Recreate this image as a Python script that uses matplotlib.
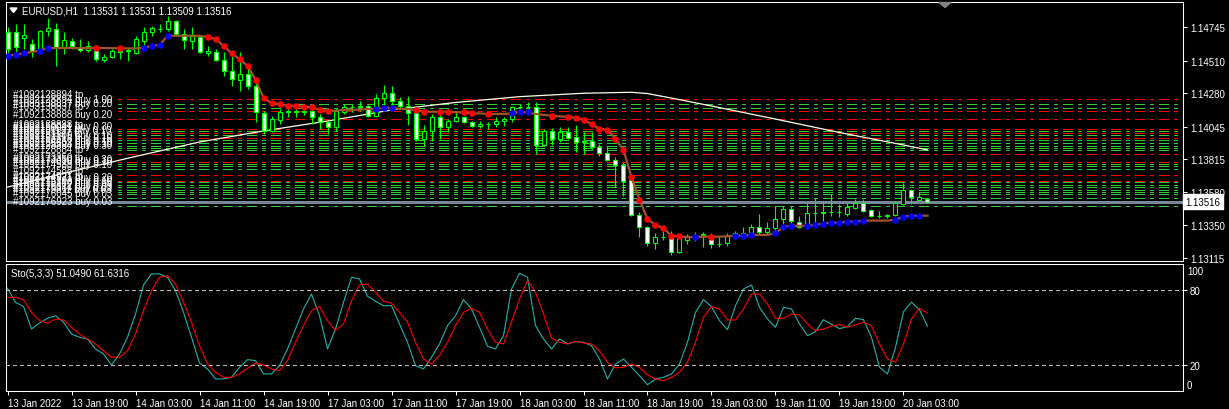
import numpy as np
import matplotlib
matplotlib.use('Agg')
import matplotlib.pyplot as plt
import matplotlib.transforms as mtrans
from matplotlib.patches import Polygon

plt.rcParams['font.family'] = ['Liberation Sans', 'DejaVu Sans']
plt.rcParams['lines.scale_dashes'] = False

# EURUSD H1, bars 13 Jan 11:00 .. 20 Jan 06:00
opens = [
    1.14712, 1.14712, 1.14670, 1.14627, 1.14578, 1.14719, 1.14733, 1.14606, 1.14649, 1.14606,
    1.14585, 1.14613, 1.14515, 1.14536, 1.14571, 1.14578, 1.14564, 1.14649, 1.14712, 1.14733,
    1.14733, 1.14790, 1.14698, 1.14649, 1.14677, 1.14564, 1.14571, 1.14515, 1.14437, 1.14373,
    1.14416, 1.14331, 1.14141, 1.14014, 1.14091, 1.14148, 1.14152, 1.14148, 1.14155, 1.14112,
    1.14077, 1.14042, 1.14148, 1.14183, 1.14186, 1.14190, 1.14119, 1.14246, 1.14282, 1.14225,
    1.14190, 1.14141, 1.13957, 1.14014, 1.14112, 1.14042, 1.14084, 1.14112, 1.14077, 1.14049,
    1.14063, 1.14060, 1.14084, 1.14098, 1.14183, 1.14186, 1.14183, 1.13915, 1.14014, 1.13957,
    1.14007, 1.13971, 1.13936, 1.13940, 1.13901, 1.13858, 1.13809, 1.13774, 1.13668, 1.13421,
    1.13336, 1.13223, 1.13266, 1.13263, 1.13160, 1.13245, 1.13273, 1.13280, 1.13280, 1.13216,
    1.13223, 1.13273, 1.13294, 1.13294, 1.13336, 1.13301, 1.13329, 1.13393, 1.13463, 1.13372,
    1.13329, 1.13435, 1.13438, 1.13442, 1.13445, 1.13428, 1.13470, 1.13506, 1.13456, 1.13414,
    1.13417, 1.13421, 1.13499, 1.13597, 1.13530, 1.13531]
highs = [
    1.14747, 1.14769, 1.14769, 1.14663, 1.14726, 1.14811, 1.14776, 1.14712, 1.14670, 1.14663,
    1.14649, 1.14620, 1.14557, 1.14592, 1.14613, 1.14599, 1.14684, 1.14747, 1.14754, 1.14769,
    1.14825, 1.14795, 1.14733, 1.14747, 1.14684, 1.14613, 1.14592, 1.14571, 1.14543, 1.14571,
    1.14472, 1.14381, 1.14155, 1.14119, 1.14169, 1.14176, 1.14169, 1.14183, 1.14190, 1.14134,
    1.14084, 1.14176, 1.14204, 1.14204, 1.14225, 1.14197, 1.14275, 1.14338, 1.14331, 1.14254,
    1.14261, 1.14155, 1.14056, 1.14134, 1.14134, 1.14098, 1.14148, 1.14119, 1.14084, 1.14084,
    1.14077, 1.14112, 1.14112, 1.14190, 1.14204, 1.14218, 1.14218, 1.14028, 1.14035, 1.14042,
    1.14042, 1.14056, 1.14007, 1.14007, 1.13921, 1.13908, 1.13830, 1.13795, 1.13689, 1.13442,
    1.13343, 1.13294, 1.13308, 1.13308, 1.13273, 1.13287, 1.13301, 1.13301, 1.13294, 1.13273,
    1.13294, 1.13308, 1.13336, 1.13357, 1.13428, 1.13372, 1.13484, 1.13484, 1.13484, 1.13414,
    1.13506, 1.13541, 1.13520, 1.13569, 1.13499, 1.13506, 1.13534, 1.13534, 1.13463, 1.13449,
    1.13428, 1.13510, 1.13647, 1.13604, 1.13583, 1.13531]
lows = [
    1.14557, 1.14571, 1.14592, 1.14536, 1.14571, 1.14684, 1.14472, 1.14557, 1.14592, 1.14571,
    1.14571, 1.14508, 1.14500, 1.14530, 1.14522, 1.14508, 1.14560, 1.14613, 1.14684, 1.14712,
    1.14719, 1.14684, 1.14592, 1.14592, 1.14564, 1.14543, 1.14508, 1.14402, 1.14331, 1.14296,
    1.14310, 1.14077, 1.13992, 1.14007, 1.14063, 1.14112, 1.14112, 1.14127, 1.14063, 1.14028,
    1.13992, 1.14014, 1.14134, 1.14148, 1.14155, 1.14112, 1.14115, 1.14204, 1.14169, 1.14169,
    1.14056, 1.13943, 1.13908, 1.13943, 1.13957, 1.14007, 1.14077, 1.14070, 1.14042, 1.14035,
    1.14028, 1.14042, 1.14049, 1.14077, 1.14148, 1.14155, 1.13851, 1.13908, 1.13915, 1.13936,
    1.13957, 1.13865, 1.13851, 1.13890, 1.13837, 1.13802, 1.13618, 1.13555, 1.13414, 1.13266,
    1.13202, 1.13181, 1.13245, 1.13139, 1.13150, 1.13216, 1.13238, 1.13195, 1.13188, 1.13195,
    1.13202, 1.13252, 1.13252, 1.13266, 1.13287, 1.13287, 1.13308, 1.13357, 1.13357, 1.13329,
    1.13322, 1.13343, 1.13357, 1.13414, 1.13407, 1.13414, 1.13463, 1.13442, 1.13407, 1.13400,
    1.13400, 1.13414, 1.13491, 1.13499, 1.13520, 1.13509]
closes = [
    1.14592, 1.14606, 1.14691, 1.14578, 1.14719, 1.14740, 1.14606, 1.14656, 1.14613, 1.14585,
    1.14613, 1.14522, 1.14536, 1.14578, 1.14578, 1.14585, 1.14663, 1.14712, 1.14740, 1.14736,
    1.14790, 1.14698, 1.14656, 1.14684, 1.14571, 1.14578, 1.14515, 1.14437, 1.14381, 1.14416,
    1.14331, 1.14148, 1.14014, 1.14098, 1.14148, 1.14152, 1.14148, 1.14155, 1.14112, 1.14077,
    1.14042, 1.14155, 1.14183, 1.14186, 1.14190, 1.14119, 1.14246, 1.14282, 1.14225, 1.14190,
    1.14141, 1.13957, 1.14014, 1.14112, 1.14042, 1.14084, 1.14112, 1.14077, 1.14049, 1.14063,
    1.14060, 1.14084, 1.14098, 1.14183, 1.14186, 1.14183, 1.13915, 1.14014, 1.13957, 1.14007,
    1.13964, 1.13936, 1.13940, 1.13901, 1.13858, 1.13809, 1.13774, 1.13661, 1.13421, 1.13336,
    1.13223, 1.13266, 1.13263, 1.13160, 1.13259, 1.13273, 1.13280, 1.13287, 1.13216, 1.13219,
    1.13273, 1.13294, 1.13290, 1.13336, 1.13301, 1.13329, 1.13393, 1.13463, 1.13379, 1.13336,
    1.13435, 1.13438, 1.13442, 1.13445, 1.13442, 1.13477, 1.13506, 1.13449, 1.13414, 1.13417,
    1.13421, 1.13506, 1.13597, 1.13548, 1.13545, 1.13516]

# trend-stop line with coloured dots ('' = no dot)
trend = [
    1.14545, 1.14552, 1.14562, 1.14571, 1.14580, 1.14599, 1.14599, 1.14599, 1.14599, 1.14599,
    1.14599, 1.14599, 1.14599, 1.14599, 1.14597, 1.14597, 1.14597, 1.14601, 1.14615, 1.14620,
    1.14686, 1.14686, 1.14686, 1.14686, 1.14686, 1.14677, 1.14663, 1.14615, 1.14562, 1.14522,
    1.14474, 1.14376, 1.14249, 1.14211, 1.14204, 1.14192, 1.14192, 1.14185, 1.14181, 1.14164,
    1.14157, 1.14157, 1.14162, 1.14164, 1.14164, 1.14169, 1.14169, 1.14176, 1.14178, 1.14169,
    1.14169, 1.14162, 1.14150, 1.14150, 1.14150, 1.14150, 1.14146, 1.14146, 1.14138, 1.14138,
    1.14134, 1.14134, 1.14134, 1.14138, 1.14146, 1.14146, 1.14134, 1.14127, 1.14122, 1.14117,
    1.14114, 1.14107, 1.14093, 1.14063, 1.14028, 1.14023, 1.13957, 1.13882, 1.13687, 1.13529,
    1.13393, 1.13350, 1.13327, 1.13275, 1.13271, 1.13264, 1.13264, 1.13268, 1.13268, 1.13268,
    1.13271, 1.13275, 1.13275, 1.13280, 1.13280, 1.13280, 1.13292, 1.13338, 1.13345, 1.13345,
    1.13345, 1.13352, 1.13360, 1.13367, 1.13367, 1.13374, 1.13374, 1.13381, 1.13381, 1.13381,
    1.13381, 1.13388, 1.13409, 1.13416, 1.13416, 1.13416]
dots = [
    "b", "b", "b", "", "b", "b", "", "", "", "",
    "", "r", "", "", "r", "", "", "b", "b", "b",
    "b", "", "", "", "", "r", "r", "r", "r", "r",
    "r", "r", "r", "r", "r", "r", "r", "r", "r", "r",
    "r", "", "", "", "", "", "b", "b", "b", "",
    "", "r", "r", "", "r", "r", "", "r", "r", "",
    "r", "", "", "b", "b", "b", "", "", "r", "",
    "r", "r", "r", "r", "r", "r", "r", "r", "r", "r",
    "r", "r", "r", "r", "r", "", "b", "", "r", "",
    "", "b", "b", "b", "", "", "b", "b", "b", "",
    "b", "b", "b", "b", "b", "b", "b", "b", "", "",
    "", "b", "b", "b", "b", ""]

# slow moving average, read at sampled bars
ma_bars = [0, 8, 16, 24, 32, 40, 48, 56, 64, 72, 78, 80, 84, 88, 96, 104, 112, 115]
ma_vals = [1.13618, 1.13728, 1.13834, 1.13936, 1.14014, 1.14084, 1.14162, 1.14215, 1.14256,
           1.14280, 1.14287, 1.14278, 1.14235, 1.14190, 1.14098, 1.14003, 1.13915, 1.13880]

# open order lines
order_prices = [1.14237, 1.14202, 1.14174, 1.14155, 1.14096, 1.14026, 1.14014, 1.14002, 1.13985,
                1.13966, 1.13950, 1.13931, 1.13910, 1.13896, 1.13880, 1.13849, 1.13797, 1.13781,
                1.13765, 1.13748, 1.13701, 1.13659, 1.13652, 1.13633, 1.13616, 1.13599, 1.13583,
                1.13567, 1.13539, 1.13482]
order_colors = ["r", "g", "g", "r", "r", "r", "g", "r", "g", "r", "g", "g", "g", "g", "g",
                "r", "r", "g", "g", "g", "r", "r", "g", "g", "g", "g", "g", "g", "g", "g"]
order_labels = [
    "#1092128894 tp", "#1092128894 buy 1.00", "#1093138837 buy 0.20", "#1093138837 tp",
    "#1092138888 buy 0.20", "#1092138888 tp", "#1092150041 buy 0.30", "#1092150041 tp",
    "#1092151127 buy 0.10", "#1092151127 tp", "#1092152209 buy 0.10", "#1092153318 buy 0.10",
    "#1092154462 buy 0.10", "#1092155503 buy 0.10", "#1092128884 buy 0.30", "#1092128884 tp",
    "#1092173350 tp", "#1092173350 buy 0.30", "#1092174016 buy 0.10", "#1092174588 buy 0.10",
    "#1092174588 tp", "#1092174921 tp", "#1092174921 buy 0.20", "#1092175102 buy 0.10",
    "#1092175240 buy 0.05", "#1092175317 buy 0.05", "#1092175384 buy 0.03",
    "#1092175811 buy 0.03", "#1092176045 buy 0.03", "#1092176923 buy 0.03"]

price_ticks = [1.14745, 1.14510, 1.14280, 1.14045, 1.13815, 1.13580, 1.13350, 1.13115]
bid = 1.13516

# Stochastic(5,3,3)
sto_main = [
    81.4, 70.2, 66.7, 48.9, 53.7, 57.5, 59.5, 54.3, 44.9, 42.3,
    41.0, 33.0, 29.0, 20.2, 29.0, 42.3, 60.9, 84.0, 92.8, 92.8,
    90.1, 79.5, 62.2, 42.3, 21.8, 17.1, 9.1, 9.1, 10.4, 18.4,
    24.5, 23.7, 13.1, 13.1, 19.7, 33.0, 48.9, 64.9, 76.8, 59.5,
    33.0, 48.9, 70.2, 90.1, 88.8, 75.0, 71.0, 67.5, 67.5, 52.9,
    38.3, 19.7, 17.1, 26.4, 37.0, 51.6, 59.5, 72.3, 64.9, 50.3,
    35.1, 33.0, 43.6, 80.8, 93.3, 90.1, 51.6, 41.0, 33.0, 41.0,
    37.0, 38.8, 38.3, 35.6, 25.0, 9.1, 21.0, 25.0, 18.4, 11.7,
    4.5, 9.1, 10.4, 13.1, 21.0, 38.3, 62.2, 72.3, 66.7, 55.5,
    48.4, 67.5, 80.8, 84.0, 66.2, 56.9, 50.3, 66.2, 64.9, 52.9,
    43.6, 46.8, 56.3, 52.7, 49.2, 50.8, 57.5, 56.3, 42.3, 18.4,
    13.1, 34.3, 62.7, 70.2, 64.3, 51.049]
sto_signal = [
    74.2, 74.2, 72.3, 62.2, 55.5, 53.5, 56.9, 56.1, 50.3, 44.9,
    41.0, 37.0, 31.6, 26.4, 26.4, 31.6, 44.9, 63.5, 79.5, 90.1,
    91.4, 84.8, 70.2, 54.3, 35.6, 21.0, 14.4, 10.4, 10.4, 13.1,
    17.6, 21.8, 20.2, 17.1, 15.7, 23.7, 38.3, 51.6, 63.5, 67.0,
    55.5, 47.6, 52.9, 71.5, 84.0, 84.8, 78.2, 71.0, 69.4, 62.2,
    54.3, 38.3, 25.0, 21.0, 27.7, 38.3, 51.6, 62.2, 65.4, 62.2,
    48.9, 38.3, 37.0, 54.3, 72.8, 87.4, 78.2, 60.9, 41.8, 38.3,
    37.0, 39.1, 37.8, 37.0, 31.6, 22.4, 17.9, 18.4, 21.0, 18.4,
    12.3, 9.1, 7.7, 10.4, 14.4, 22.4, 38.3, 58.3, 66.7, 64.9,
    56.1, 56.1, 64.9, 76.8, 76.8, 68.9, 57.5, 57.5, 60.9, 60.1,
    52.9, 47.6, 48.9, 51.2, 52.4, 50.5, 52.1, 54.3, 51.6, 37.0,
    25.0, 22.4, 37.0, 56.9, 65.4, 61.6316]

time_labels = ["13 Jan 2022", "13 Jan 19:00", "14 Jan 03:00", "14 Jan 11:00", "14 Jan 19:00",
               "17 Jan 03:00", "17 Jan 11:00", "17 Jan 19:00", "18 Jan 03:00", "18 Jan 11:00",
               "18 Jan 19:00", "19 Jan 03:00", "19 Jan 11:00", "19 Jan 19:00", "20 Jan 03:00"]

W, H = 1229, 410
LIME = '#00FF00'


def fx(px):
    return px / W


def fy(py):
    return 1 - py / H


fig = plt.figure(figsize=(W / 100, H / 100), dpi=100, facecolor='black')
ax = fig.add_axes([fx(6), fy(262.3), fx(1183) - fx(6), fy(3.3) - fy(262.3)], facecolor='black')
ax2 = fig.add_axes([fx(6), fy(392), fx(1183) - fx(6), fy(264.5) - fy(392)], facecolor='black')

x = np.arange(len(opens))
o, h, l, c = (np.array(v) for v in (opens, highs, lows, closes))
xlim = (-0.19, 146.94)

# order lines + labels
line_start = 13.7
for p, col, lbl in zip(order_prices, order_colors, order_labels):
    ax.plot([line_start, xlim[1] + 1], [p, p], color='#FF0000' if col == 'r' else '#32CD32',
            lw=0.75, linestyle=(10.3, (6.5, 4.3, 2.2, 4.3)), antialiased=False, zorder=1)
    ax.annotate(lbl, xy=(0.73, p), xytext=(0, 1.5), textcoords='offset points',
                color='white', fontsize=7, va='baseline', ha='left', zorder=6)

ax.axhline(bid, color='#778899', lw=0.75, antialiased=False, zorder=1.5)
ax.plot(ma_bars, ma_vals, color='#FFFFE8', lw=0.9, zorder=2)

# candles
bull = c >= o
ax.vlines(x, l, h, color=LIME, lw=0.8, zorder=3)
ax.bar(x, np.abs(c - o), bottom=np.minimum(o, c), width=0.5,
       color=np.where(bull, 'black', 'white'), edgecolor=LIME, linewidth=0.8, zorder=3.5)

ax.plot(x, trend, color='#A0522D', lw=1.6, zorder=4)
dots_arr = np.array(dots)
tr = np.array(trend)
ax.scatter(x[dots_arr == 'r'], tr[dots_arr == 'r'], s=22, color='#FF0000', zorder=5, linewidths=0)
ax.scatter(x[dots_arr == 'b'], tr[dots_arr == 'b'], s=22, color='#0000FF', zorder=5, linewidths=0)

ax.set_xlim(*xlim)
ax.set_ylim(1.13094, 1.14922)
ax.set_xticks([])
ax.yaxis.tick_right()
ax.set_yticks(price_ticks)
ax.set_yticklabels([f'{v:.5f}' for v in price_ticks])
ax.tick_params(axis='y', colors='white', labelsize=7, length=3, width=0.75, pad=2)
for sp in ax.spines.values():
    sp.set_color('white')
    sp.set_linewidth(0.75)

trans = mtrans.blended_transform_factory(ax.transAxes, ax.transData)
ax.text(1.002, bid, f'{bid:.5f}', transform=trans, ha='left', va='center', fontsize=7,
        color='black', zorder=10, clip_on=False,
        bbox=dict(boxstyle='square,pad=0.25', fc='white', ec='white'))

# title and markers
fig.text(fx(22), fy(11.7), 'EURUSD,H1  1.13531 1.13531 1.13509 1.13516', color='white',
         fontsize=7, va='center', ha='left')
fig.add_artist(Polygon([(fx(10), fy(9)), (fx(17), fy(9)), (fx(13.5), fy(13.5))],
                       closed=True, transform=fig.transFigure, color='white'))
fig.add_artist(Polygon([(fx(939), fy(3.5)), (fx(951), fy(3.5)), (fx(945), fy(8.5))],
                       closed=True, transform=fig.transFigure, color='#808080'))

# stochastic
ax2.plot(x, sto_main, color='#20B2AA', lw=0.8)
ax2.plot(x, sto_signal, color='#FF0000', lw=0.8)
for lvl in (80, 20):
    ax2.axhline(lvl, color='#C0C0C0', lw=0.75, linestyle=(0, (2.2, 2.2)), antialiased=False)
ax2.set_xlim(*xlim)
ax2.set_ylim(-0.5, 101.1)
ax2.yaxis.tick_right()
ax2.set_yticks([80, 20])
ax2.set_yticklabels(['80', '20'])
ax2.text(1.0035, 95.4, '100', transform=mtrans.blended_transform_factory(ax2.transAxes, ax2.transData),
         color='white', fontsize=7, va='center', ha='left')
ax2.text(1.0035, 4.5, '0', transform=mtrans.blended_transform_factory(ax2.transAxes, ax2.transData),
         color='white', fontsize=7, va='center', ha='left')
ax2.set_xticks(np.arange(0, 8 * len(time_labels), 8))
ax2.set_xticklabels(time_labels, ha='left')
ax2.tick_params(colors='white', labelsize=7, length=3, width=0.75, pad=2)
for sp in ax2.spines.values():
    sp.set_color('white')
    sp.set_linewidth(0.75)
fig.text(fx(11), fy(274), 'Sto(5,3,3) 51.0490 61.6316', color='white', fontsize=7,
         va='center', ha='left')

fig.savefig('out.png', dpi=100, facecolor='black')
